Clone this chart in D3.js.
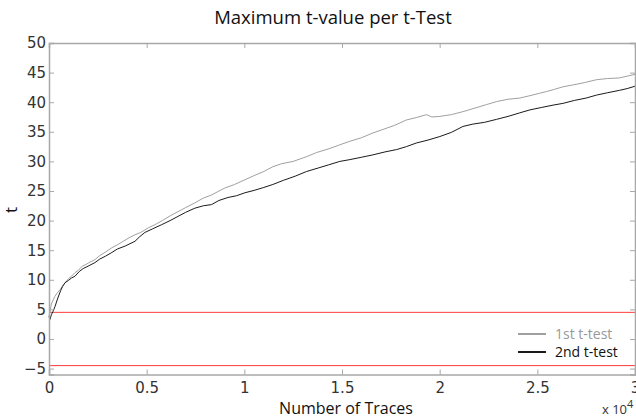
<!DOCTYPE html>
<html><head><meta charset="utf-8">
<script src="https://cdn.jsdelivr.net/npm/d3@7"></script>
<style>body{margin:0;background:#fff}svg{display:block}</style>
</head><body>
<svg id="c" width="636" height="420"></svg>
<script>
const titleText = "Maximum t-value per t-Test";
const xLabel = "Number of Traces";
const yLabel = "t";
const seriesNames = ["1st t-test", "2nd t-test"];
const xTicks = [0, 0.5, 1, 1.5, 2, 2.5, 3];
const yTicks = [-5, 0, 5, 10, 15, 20, 25, 30, 35, 40, 45, 50];
const thresholds = [4.5, -4.5];
// Number of traces (x 10^4)
const x1 = [0,0.005,0.012,0.02,0.03,0.045,0.056,0.07,0.085,0.1,0.115,0.133,0.15,0.17,0.19,0.21,0.235,0.26,0.29,0.321,0.35,0.38,0.41,0.44,0.47,0.51,0.542,0.58,0.62,0.66,0.70,0.747,0.79,0.83,0.865,0.9,0.95,1.003,1.05,1.10,1.146,1.19,1.25,1.319,1.37,1.43,1.489,1.54,1.6,1.658,1.71,1.77,1.83,1.88,1.933,1.96,2.001,2.06,2.119,2.18,2.24,2.291,2.35,2.41,2.462,2.51,2.547,2.59,2.631,2.68,2.74,2.803,2.86,2.92,2.96,3.0];
const t1 = [3.8,4.6,5.9,6.5,7.2,7.9,8.3,9.0,9.6,10.2,10.6,11.2,11.6,12.3,12.6,13.0,13.4,14.1,14.7,15.4,15.9,16.5,17.1,17.6,18.0,18.8,19.3,20.0,20.8,21.5,22.2,23.0,23.8,24.3,24.9,25.5,26.1,26.9,27.6,28.3,29.1,29.6,30.0,30.8,31.5,32.1,32.8,33.4,34.0,34.8,35.4,36.1,37.0,37.4,37.9,37.5,37.6,37.9,38.4,39.0,39.6,40.1,40.5,40.7,41.1,41.5,41.8,42.2,42.6,42.9,43.3,43.8,44.0,44.1,44.4,44.7];
const x2 = [0,0.005,0.012,0.02,0.031,0.045,0.06,0.07,0.082,0.1,0.115,0.133,0.155,0.175,0.2,0.235,0.26,0.29,0.321,0.35,0.39,0.44,0.465,0.491,0.53,0.576,0.62,0.66,0.70,0.747,0.79,0.832,0.87,0.916,0.96,1.003,1.05,1.1,1.146,1.2,1.26,1.319,1.38,1.43,1.489,1.54,1.6,1.658,1.72,1.78,1.83,1.88,1.94,2.001,2.06,2.119,2.17,2.23,2.291,2.35,2.41,2.462,2.52,2.58,2.631,2.69,2.75,2.803,2.86,2.92,2.96,3.0];
const t2 = [3.8,3.3,4.1,4.6,5.5,6.9,8.2,8.9,9.5,9.9,10.3,10.6,11.4,11.9,12.3,12.9,13.5,14.0,14.6,15.2,15.7,16.5,17.3,18.0,18.6,19.3,20.0,20.7,21.4,22.1,22.5,22.7,23.4,23.9,24.2,24.7,25.1,25.6,26.1,26.8,27.5,28.3,28.9,29.4,30.0,30.3,30.7,31.1,31.6,32.0,32.5,33.1,33.6,34.2,34.9,35.9,36.3,36.6,37.1,37.6,38.2,38.7,39.1,39.5,39.8,40.3,40.7,41.2,41.6,42.0,42.3,42.7];
const colors = ["#a0a0a0", "#1a1a1a"];

const svg = d3.select("#c");
const L = 49, R = 635, T = 43, B = 374.5;
const x = d3.scaleLinear().domain([0, 3]).range([L, R]);
const y = d3.scaleLinear().domain([-6, 50]).range([B, T]);
const axisCol = "#a8a8a8";
const tickFont = "'DejaVu Sans', Verdana, sans-serif";
const textFont = "'Open Sans', sans-serif";

// title
svg.append("text").attr("x", 333).attr("y", 24).attr("text-anchor", "middle")
  .attr("font-family", textFont).attr("font-size", 18.5).attr("fill", "#111").text(titleText);

// thresholds
svg.selectAll("line.thr").data(thresholds).enter().append("line")
  .attr("x1", L).attr("x2", R).attr("y1", d => y(d)).attr("y2", d => y(d))
  .attr("stroke", "#ff3b3b").attr("stroke-width", 1);

// series
const line = d3.line().x(d => x(d[0])).y(d => y(d[1]));
const data = [d3.zip(x1, t1), d3.zip(x2, t2)];
svg.selectAll("path.s").data(data).enter().append("path")
  .attr("d", line).attr("fill", "none")
  .attr("stroke", (d, i) => colors[i]).attr("stroke-width", 1);

// axes
const gBottom = svg.append("g").attr("transform", `translate(0,${B})`)
  .call(d3.axisBottom(x).tickValues(xTicks).tickSize(-5).tickPadding(8).tickFormat(d3.format("")));
const gTop = svg.append("g").attr("transform", `translate(0,${T})`)
  .call(d3.axisTop(x).tickValues(xTicks).tickSize(-5).tickFormat(""));
const gLeft = svg.append("g").attr("transform", `translate(${L},0)`)
  .call(d3.axisLeft(y).tickValues(yTicks).tickSize(-5).tickPadding(3));
const gRight = svg.append("g").attr("transform", `translate(${R},0)`)
  .call(d3.axisRight(y).tickValues(yTicks).tickSize(-5).tickFormat(""));
[gBottom, gTop, gLeft, gRight].forEach(g => {
  g.select(".domain").attr("stroke", axisCol).attr("stroke-width", 1.5);
  g.selectAll(".tick line").attr("stroke", axisCol);
  g.selectAll("text").attr("font-family", tickFont).attr("font-size", 15).attr("fill", "#333");
});

// axis labels
svg.append("text").attr("x", 346).attr("y", 414).attr("text-anchor", "middle")
  .attr("font-family", textFont).attr("font-size", 16).attr("fill", "#111").text(xLabel);
const ex = svg.append("text").attr("x", 602).attr("y", 414)
  .attr("font-family", textFont).attr("font-size", 13).attr("fill", "#333");
ex.append("tspan").text("x 10");
ex.append("tspan").attr("dy", -6).attr("font-size", 11).text("4");
svg.append("text").attr("transform", "translate(17,210) rotate(-90)").attr("text-anchor", "middle")
  .attr("font-family", textFont).attr("font-size", 17).attr("fill", "#111").text(yLabel);

// legend
const lg = svg.append("g");
seriesNames.forEach((n, i) => {
  const yy = 334 + i * 18;
  lg.append("line").attr("x1", 518).attr("x2", 546).attr("y1", yy).attr("y2", yy)
    .attr("stroke", colors[i]).attr("stroke-width", 2);
  lg.append("text").attr("x", 555).attr("y", yy + 5).attr("font-family", textFont)
    .attr("font-size", 14).attr("fill", i === 0 ? "#999" : "#111").text(n);
});
</script>
</body></html>
